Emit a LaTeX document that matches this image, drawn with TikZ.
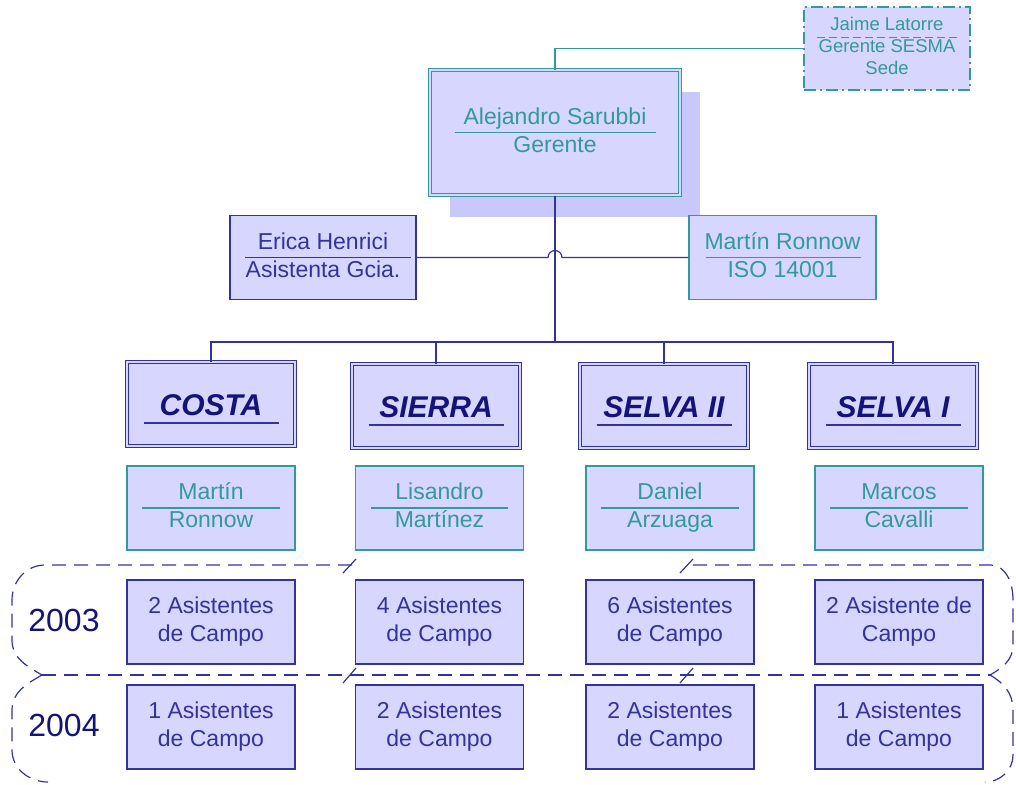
\documentclass[tikz,border=0pt]{standalone}
\usepackage{fontspec}
\setmainfont{Liberation Sans}
\usetikzlibrary{positioning, shadows}
\definecolor{boxfill}{RGB}{214,214,255}
\definecolor{shadefill}{RGB}{200,200,250}
\definecolor{navy}{RGB}{51,51,153}
\definecolor{darknavy}{RGB}{20,20,120}
\definecolor{tealc}{RGB}{51,153,153}
\tikzset{
  box/.style={draw=navy, fill=boxfill, line width=1.2pt, minimum width=168pt, minimum height=84pt,
    inner sep=0pt, align=center, text=navy, font=\fontsize{23}{28}\selectfont,
    execute at begin node=\rule{0pt}{20pt}, execute at end node=\rule[-5pt]{0pt}{5pt}},
  tbox/.style={box, draw=tealc, text=tealc},
  rbox/.style={box, double=boxfill, double distance=2.6pt, line width=1pt, text=darknavy,
    font=\fontsize{30}{34}\selectfont\bfseries\itshape,
    execute at begin node=\rule{0pt}{28pt}, execute at end node={}},
  gbox/.style={tbox, double=boxfill, double distance=2.6pt, line width=1pt, minimum width=250pt,
    minimum height=125pt, drop shadow={shadow xshift=20pt, shadow yshift=-22pt, fill=shadefill, opacity=1}},
  jbox/.style={tbox, minimum width=166pt, minimum height=83pt, line width=1.4pt,
    dash pattern=on 12pt off 4pt on 2pt off 4pt, font=\fontsize{18.5}{22}\selectfont,
    execute at begin node=\rule{0pt}{15pt}},
  navyline/.style={navy, line width=1.2pt},
  tealline/.style={tealc, line width=1.2pt},
  loopline/.style={navy, line width=1.2pt, dash pattern=on 14pt off 8pt},
}
\begin{document}
\begin{tikzpicture}[x=1pt, y=-1pt, >=latex]
\useasboundingbox (0,0) rectangle (1016,784);

\node (G) at (555,132.5)[gbox]{Alejandro Sarubbi\\Gerente};
\node (J) at (887,48.5)[jbox]{Jaime Latorre\\Gerente SESMA\\Sede};
\node (E) at (323,257.5)[box, minimum width=186pt]{Erica Henrici\\Asistenta Gcia.};
\node (I) at (782.5,257.5)[tbox, minimum width=187pt]{Martín Ronnow\\ISO 14001};

\draw[tealline] ([xshift=25pt]G.west) -- ([xshift=-25pt]G.east);
\draw[tealc, line width=1pt, dash pattern=on 8pt off 4pt] ([xshift=14pt,yshift=11pt]J.west) -- ([xshift=-14pt,yshift=11pt]J.east);
\draw[navyline] ([xshift=16pt]E.west) -- ([xshift=-6pt]E.east);
\draw[tealline] ([xshift=18pt]I.west) -- ([xshift=-16pt]I.east);

\foreach \n/\xpos/\ypos/\xtext in {R1/211/404/COSTA, R2/436/406/SIERRA, R3/664/406/SELVA II, R4/893/406/SELVA I}
{
    \node (\n) at (\xpos,\ypos)[rbox]{\xtext};
    \draw[navyline] ([xshift=17pt,yshift=-19pt]\n.west) -- ([xshift=-17pt,yshift=-19pt]\n.east);
}

\foreach \n/\xpos/\xtext in {P1/211/Martín\\Ronnow, P2/439.5/Lisandro\\Martínez, P3/670/Daniel\\Arzuaga, P4/899/Marcos\\Cavalli}
{
    \node (\n) at (\xpos,508)[tbox]{\xtext};
    \draw[tealline] ([xshift=16pt]\n.west) -- ([xshift=-16pt]\n.east);
}

\foreach \n/\xpos/\xtext in {A1/211/2 Asistentes\\de Campo, A2/439.5/4 Asistentes\\de Campo, A3/670/6 Asistentes\\de Campo, A4/899/2 Asistente de\\Campo}
    \node (\n) at (\xpos,622)[box]{\xtext};

\foreach \n/\xpos/\xtext in {B1/211/1 Asistentes\\de Campo, B2/439.5/2 Asistentes\\de Campo, B3/670/2 Asistentes\\de Campo, B4/899/1 Asistentes\\de Campo}
    \node (\n) at (\xpos,727)[box]{\xtext};

\node (Y3) at (64,620)[text=darknavy, font=\fontsize{32}{36}\selectfont]{2003};
\node (Y4) at (64,725)[text=darknavy, font=\fontsize{32}{36}\selectfont]{2004};

% connectors
\draw[tealline] (G.north) |- (J.west);
\coordinate (X) at (E.east -| G.south);
\draw[navyline] (E.east) -- ([xshift=-7pt]X) arc[start angle=180, end angle=360, radius=7] -- (I.west);
\coordinate (bus) at (555,342);
\draw[navyline] (G.south) -- (bus);
\foreach \n in {R1,R2,R3,R4}
    \draw[navyline] (\n.north) |- (bus);

% year loops
\draw[loopline] (352,565) -- (45,565) to[out=180,in=90] (12,600) -- (12,640) to[out=-90,in=150] (42,675);
\draw[loopline] (693,565) -- (990,565) to[out=0,in=90] (1013,600) -- (1013,645) to[out=-90,in=30] (990,675);
\draw[loopline] (42,675) -- (990,675);
\draw[loopline] (42,675) to[out=-150,in=90] (12,710) -- (12,750) to[out=-90,in=180] (48,782);
\draw[loopline] (990,675) to[out=-30,in=90] (1013,710) -- (1013,755) to[out=-90,in=0] (985,782);
\foreach \x in {343,680}
{
    \draw[navyline] (\x,573) -- (\x+13,559);
    \draw[navyline] (\x,683) -- (\x+13,668);
}
\end{tikzpicture}
\end{document}
